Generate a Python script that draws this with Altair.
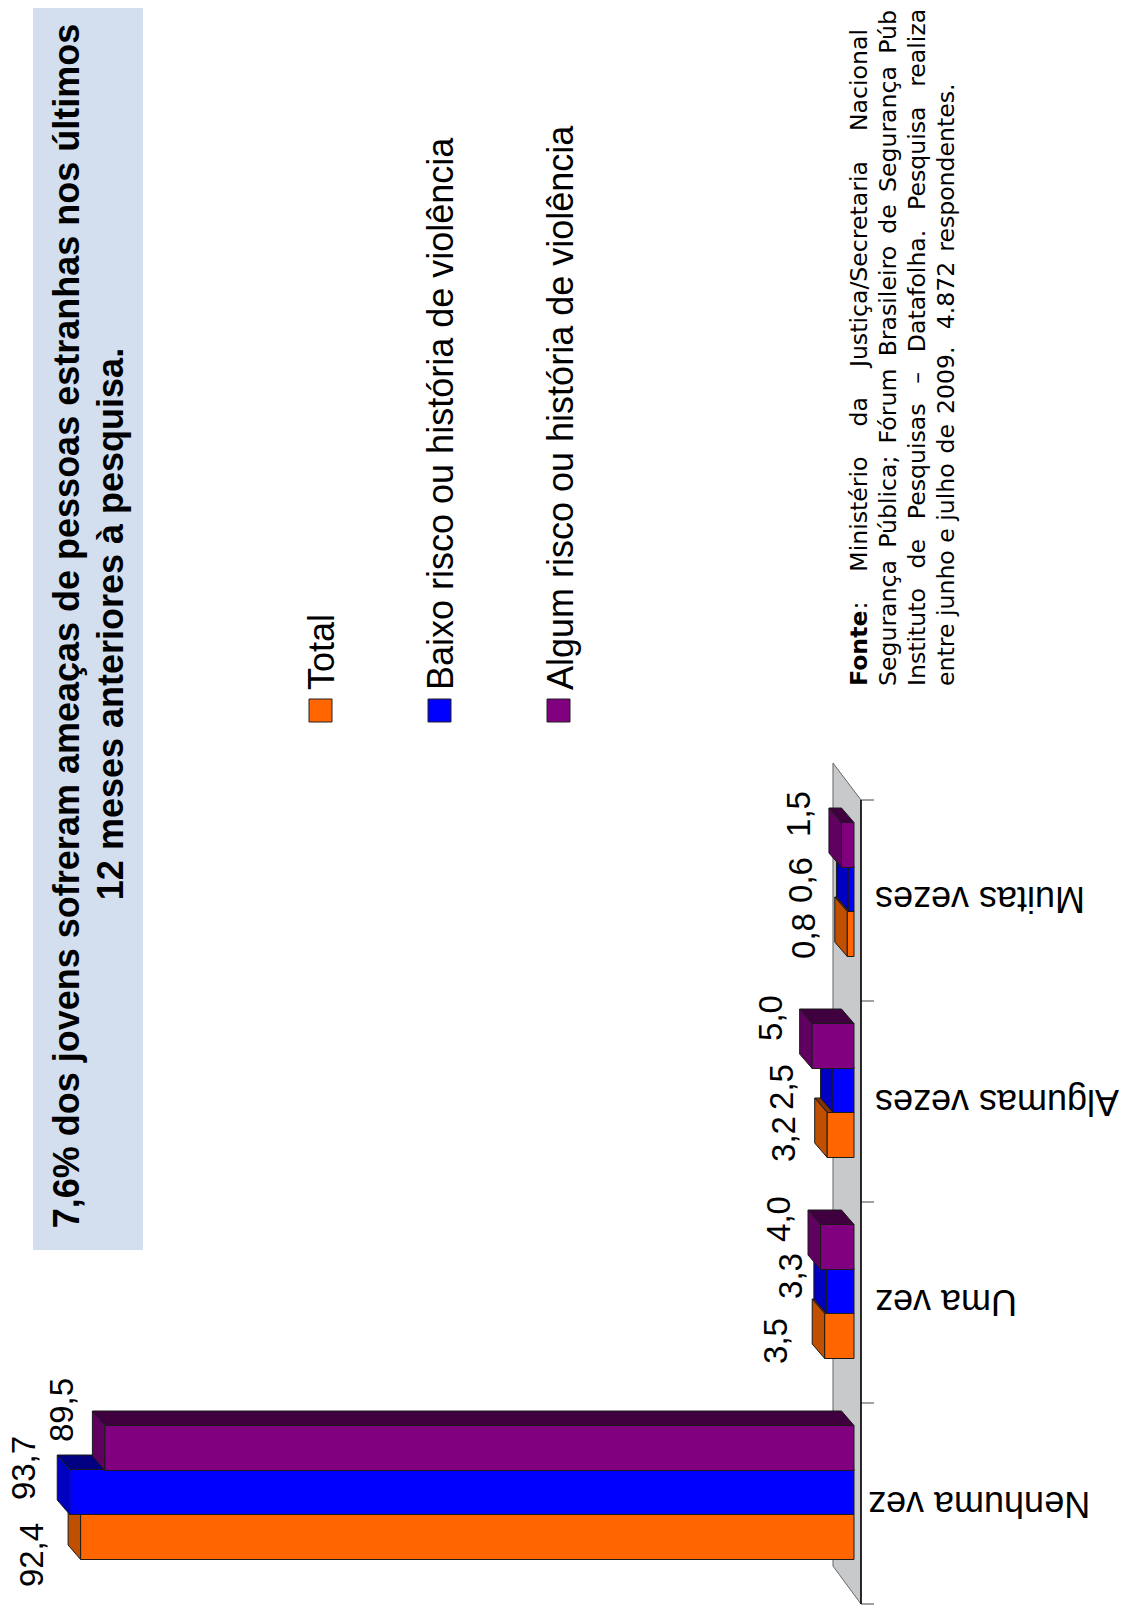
import altair as alt
import pandas as pd

# ---------- values ----------
categories = ["Nenhuma vez", "Uma vez", "Algumas vezes", "Muitas vezes"]
series_names = ["Total", "Baixo risco ou história de violência", "Algum risco ou história de violência"]
total_values = [92.4, 3.5, 3.2, 0.8]
baixo_values = [93.7, 3.3, 2.5, 0.6]
algum_values = [89.5, 4.0, 5.0, 1.5]
label_texts = [
    ["92,4", "3,5", "3,2", "0,8"],
    ["93,7", "3,3", "2,5", "0,6"],
    ["89,5", "4,0", "5,0", "1,5"],
]

# ---------- styles and layout ----------
W, H = 1115, 1600
M = 8
PX_PER_UNIT = 8.37
ZERO_PX = 854
BAND_PX = 201
BASE_PX = 1604
FRONT = ["#FF6600", "#0000FF", "#800080"]
SIDE = ["#C05000", "#0000C0", "#600060"]
TOP = ["#803300", "#000080", "#400040"]
EDGE = "#1a1a1a"
BAR_START = [44.5 / BAND_PX, 89.5 / BAND_PX, 133.5 / BAND_PX]
BAR_H = 45 / BAND_PX
DEPTH_X = 12.5 / PX_PER_UNIT
DEPTH_Y = 14.5 / BAND_PX
LABEL_DX = [[-37.6, -37.7, -32.2, -32.3], [-34.7, -24.7, -39.7, -37.3], [-32.2, -30.5, -30.3, -31.4]]
LABEL_DY = [[18, 5, 4, 2], [-24, -15, -3, -9], [-38, -28, -28, -31]]
CAT_X = [868, 875, 875, 875]
CAT_Y = [1492, 1290, 1090, 887]

x_scale = alt.Scale(domain=[(ZERO_PX - M) / PX_PER_UNIT, (ZERO_PX - M - W) / PX_PER_UNIT], range=[0, W], nice=False, zero=False)
y_scale = alt.Scale(domain=[(BASE_PX - M - H) / BAND_PX, (BASE_PX - M) / BAND_PX], range=[H, 0], nice=False, zero=False)
X = lambda f: alt.X(f, type="quantitative", scale=x_scale, axis=None, title=None)
Y = lambda f: alt.Y(f, type="quantitative", scale=y_scale, axis=None, title=None)
dummy = alt.Data(values=[{"a": 0}])


def text(s, px, py, size, font="Liberation Sans", angle=270, align="left", weight="normal"):
    return alt.Chart(dummy).mark_text(
        text=s, font=font, fontSize=size, angle=angle, align=align, baseline="alphabetic",
        fontWeight=weight, color="black",
    ).encode(x=alt.value(px - M), y=alt.value(py - M))


def box(x0, x1, y0, y1, fill, stroke=None):
    kw = {"stroke": stroke, "strokeWidth": 1} if stroke else {}
    return alt.Chart(dummy).mark_rect(fill=fill, **kw).encode(
        x=alt.value(x0 - M), x2=alt.value(x1 - M), y=alt.value(y0 - M), y2=alt.value(y1 - M)
    )


layers = []

# title band
layers.append(box(33, 143, -8, 1250, "#D3DFEF"))
layers.append(text("7,6% dos jovens sofreram ameaças de pessoas estranhas nos últimos", 79, 626, 36, angle=270, align="center", weight="bold"))
layers.append(text("12 meses anteriores à pesquisa.", 123, 624, 36, angle=270, align="center", weight="bold"))

# legend
for name, col, x0, base in zip(series_names, FRONT, [309, 428, 547], [334, 453, 573]):
    layers.append(box(x0, x0 + 23, 699, 722, col, "#222222"))
    layers.append(text(name, base, 690, 36))

# footnote
SP = "\u00a0"
HS = "\u200a"
TS = "\u2009"
fn = "DejaVu Sans"
FS = 23.6
layers.append(text("Fonte", 867, 686, FS, font=fn, weight="bold"))
layers.append(text(":" + SP * 4 + "Ministério" + SP * 4 + "da" + SP * 4 + "Justiça/Secretaria" + SP * 4 + "Nacional", 867, 609.6, FS, font=fn))
layers.append(text((SP + TS).join(["Segurança", "Pública;", "Fórum", "Brasileiro", "de", "Segurança", "Pública,"]), 896, 686, FS, font=fn))
layers.append(text((SP * 2 + TS).join(["Instituto", "de", "Pesquisas", "–", "Datafolha.", "Pesquisa", "realizada"]), 925, 686, FS, font=fn))
layers.append(text("entre junho e julho" + SP + HS + "de" + SP + HS + "2009." + SP * 2 + HS + "4.872" + SP + HS + "respondentes.", 954, 686, FS, font=fn))

# floor wall
wall = pd.DataFrame({
    "x": [2.51, -0.836],
    "y": [0.189, 0.0],
    "y2": [4.184, 4.0],
})
layers.append(alt.Chart(wall).mark_area(color="#C8C9CB", stroke="#666666", strokeWidth=1).encode(
    x=X("x"), y=Y("y"), y2=alt.Y2("y2")))

# axis line and ticks
ax = pd.DataFrame({"x": [-0.836] * 5, "x2": [-2.39] * 5, "y": [0, 1, 2, 3, 4]})
layers.append(alt.Chart(ax).mark_rule(color="#444444", strokeWidth=1).encode(x=X("x"), x2=alt.X2("x2"), y=Y("y")))
layers.append(alt.Chart(pd.DataFrame({"x": [-0.836], "y": [0], "y2": [4]})).mark_rule(color="black", strokeWidth=1.5).encode(
    x=X("x"), y=Y("y"), y2=alt.Y2("y2")))

# bars: front rectangle and two depth faces for each series
values = [total_values, baixo_values, algum_values]
for s, vals in enumerate(values):
    front, side, top = [], [], []
    for k, v in enumerate(vals):
        y0 = k + BAR_START[s]
        y1 = y0 + BAR_H
        front.append({"x": v, "x2": 0, "y": y0, "y2": y1})
        side.append({"c": k, "x": v, "y": y0, "y2": y1})
        side.append({"c": k, "x": v + DEPTH_X, "y": y0 + DEPTH_Y, "y2": y1 + DEPTH_Y})
        top.append({"c": k, "y": y1, "x": v, "x2": 0})
        top.append({"c": k, "y": y1 + DEPTH_Y, "x": v + DEPTH_X, "x2": DEPTH_X})
    layers.append(alt.Chart(pd.DataFrame(top)).mark_area(orient="horizontal", color=TOP[s], stroke=EDGE, strokeWidth=1).encode(
        y=Y("y"), x=X("x"), x2=alt.X2("x2"), detail="c:N"))
    layers.append(alt.Chart(pd.DataFrame(side)).mark_area(color=SIDE[s], stroke=EDGE, strokeWidth=1).encode(
        x=X("x"), y=Y("y"), y2=alt.Y2("y2"), detail="c:N"))
    layers.append(alt.Chart(pd.DataFrame(front)).mark_rect(color=FRONT[s], stroke=EDGE, strokeWidth=1).encode(
        x=X("x"), x2=alt.X2("x2"), y=Y("y"), y2=alt.Y2("y2")))

# value labels
rows = []
for s, vals in enumerate(values):
    for k, v in enumerate(vals):
        rows.append({
            "x": v - LABEL_DX[s][k] / PX_PER_UNIT,
            "y": k + BAR_START[s] + BAR_H / 2 - LABEL_DY[s][k] / BAND_PX,
            "t": label_texts[s][k],
        })
layers.append(alt.Chart(pd.DataFrame(rows)).mark_text(
    font="Liberation Sans", fontSize=33, angle=270, align="center", baseline="alphabetic", color="black"
).encode(x=X("x"), y=Y("y"), text="t:N"))

# category labels
for c, px, py in zip(categories, CAT_X, CAT_Y):
    layers.append(text(c, px, py, 36, angle=180, align="right"))

chart = alt.layer(*layers).properties(
    width=W, height=H, padding=0, autosize=alt.AutoSizeParams(type="none"), background="white"
).configure_view(stroke=None)

chart.save("out.html", embed_options={"renderer": "svg", "actions": False})
